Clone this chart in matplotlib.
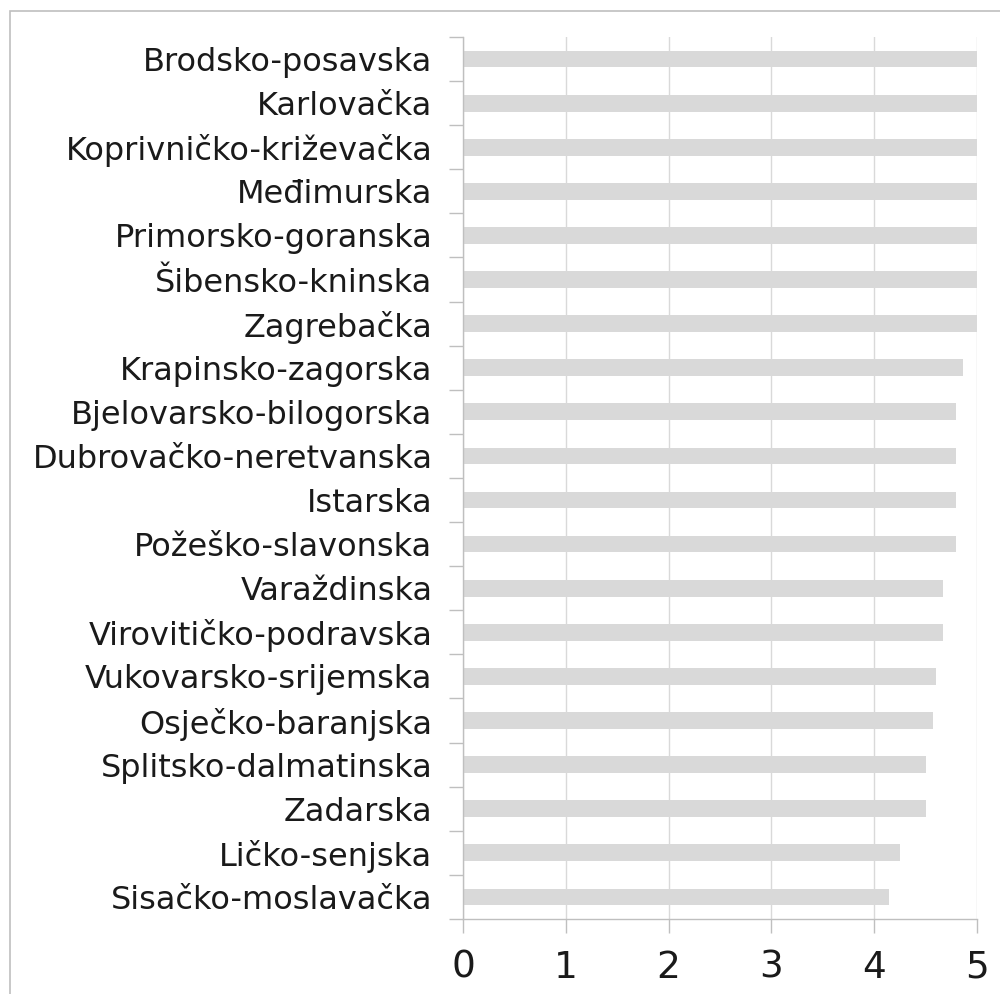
import matplotlib
matplotlib.use("Agg")
import matplotlib.pyplot as plt
from matplotlib.patches import Rectangle
from matplotlib.ticker import FixedLocator

# counties, top to bottom as drawn
counties = [
    "Brodsko-posavska",
    "Karlovačka",
    "Koprivničko-križevačka",
    "Međimurska",
    "Primorsko-goranska",
    "Šibensko-kninska",
    "Zagrebačka",
    "Krapinsko-zagorska",
    "Bjelovarsko-bilogorska",
    "Dubrovačko-neretvanska",
    "Istarska",
    "Požeško-slavonska",
    "Varaždinska",
    "Virovitičko-podravska",
    "Vukovarsko-srijemska",
    "Osječko-baranjska",
    "Splitsko-dalmatinska",
    "Zadarska",
    "Ličko-senjska",
    "Sisačko-moslavačka",
]
scores = [5, 5, 5, 5, 5, 5, 5, 4.86, 4.8, 4.8, 4.8, 4.8,
          4.67, 4.67, 4.6, 4.57, 4.5, 4.5, 4.25, 4.14]
x_ticks = [0, 1, 2, 3, 4, 5]

plt.rcParams["font.family"] = ["DejaVu Sans"]

fig = plt.figure(figsize=(10, 9.94), dpi=100)
ax = fig.add_axes([0.463, 0.0755, 0.514, 0.8873])

ypos = list(range(len(counties)))
ax.barh(ypos, scores, height=0.38, color="#d9d9d9", zorder=2)

ax.set_xlim(0, 5)
ax.set_ylim(len(counties) - 0.5, -0.5)

ax.set_xticks(x_ticks)
ax.set_xticklabels([str(t) for t in x_ticks], fontsize=27, color="#1a1a1a")
ax.set_yticks(ypos)
ax.set_yticklabels(counties, fontsize=23, color="#1a1a1a")
ax.yaxis.set_minor_locator(FixedLocator([i - 0.5 for i in range(len(counties) + 1)]))

ax.tick_params(axis="y", which="major", length=0, pad=22)
ax.tick_params(axis="y", which="minor", length=10, width=1, color="#bfbfbf")
ax.tick_params(axis="x", length=10, width=1, color="#bfbfbf", pad=12)

ax.grid(True, axis="x", color="#d9d9d9", linewidth=1, zorder=0)
for side in ("top", "right"):
    ax.spines[side].set_visible(False)
for side in ("left", "bottom"):
    ax.spines[side].set_color("#bfbfbf")
    ax.spines[side].set_linewidth(1)

# chart frame, cropped at right and bottom
fig.patches.append(Rectangle((0.01, -0.1), 1.2, 1.089, transform=fig.transFigure,
                             fill=False, edgecolor="#bfbfbf", linewidth=1.2))

fig.savefig("out.png", dpi=100)
